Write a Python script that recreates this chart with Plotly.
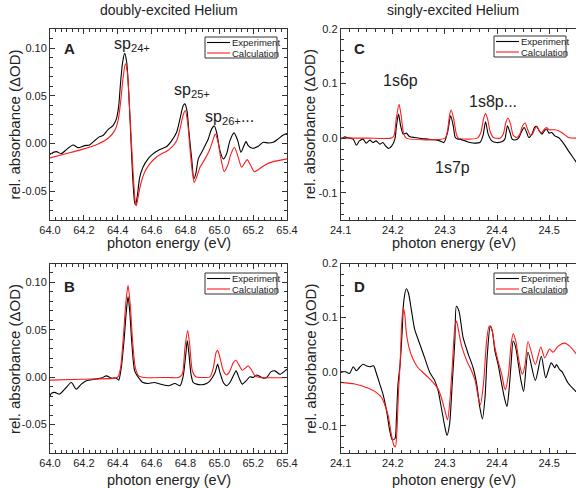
import plotly.graph_objects as go

# ---------------- data ----------------
# Panel A (doubly-excited, transient absorbance)
a_exp_e = [64.000, 64.004, 64.037, 64.067, 64.097, 64.136, 64.165, 64.205, 64.234, 64.264, 64.293, 64.313,
           64.343, 64.372, 64.392, 64.406, 64.417, 64.429, 64.441, 64.453, 64.465, 64.477, 64.488, 64.500,
           64.506, 64.516, 64.530, 64.549, 64.579, 64.608, 64.638, 64.667, 64.690, 64.719, 64.748, 64.768,
           64.787, 64.797, 64.809, 64.821, 64.837, 64.850, 64.861, 64.876, 64.896, 64.916, 64.935, 64.955,
           64.971, 64.984, 65.004, 65.024, 65.043, 65.063, 65.087, 65.109, 65.128, 65.142, 65.158, 65.171,
           65.195, 65.230, 65.260, 65.289, 65.319, 65.348, 65.378, 65.400]
a_exp_v = [-0.0115, -0.0108, -0.0084, -0.0105, -0.0063, -0.0014, -0.0042, -0.0021, -0.0014, 0.0031, 0.0073, 0.0084,
           0.0147, 0.0189, 0.0259, 0.0398, 0.0643, 0.0852, 0.0945, 0.0852, 0.0540, 0.0084, -0.0335, -0.0615,
           -0.0640, -0.0545, -0.0353, -0.0248, -0.0160, -0.0108, -0.0073, -0.0049, -0.0030, 0.0031, 0.0119, 0.0259,
           0.0398, 0.0416, 0.0346, 0.0119, -0.0160, -0.0370, -0.0318, -0.0160, -0.0091, -0.0021, 0.0049, 0.0154,
           0.0185, 0.0119, -0.0073, -0.0160, -0.0108, 0.0031, 0.0112, 0.0031, -0.0091, -0.0038, 0.0021, -0.0021,
           -0.0049, -0.0028, 0.0014, 0.0007, 0.0014, 0.0049, 0.0091, 0.0105]
a_calc_e = [64.000, 64.087, 64.185, 64.284, 64.343, 64.382, 64.402, 64.417, 64.431, 64.445, 64.457, 64.468,
            64.480, 64.492, 64.504, 64.510, 64.520, 64.536, 64.559, 64.589, 64.628, 64.667, 64.690, 64.719,
            64.748, 64.768, 64.787, 64.799, 64.813, 64.827, 64.841, 64.852, 64.866, 64.886, 64.916, 64.945,
            64.965, 64.976, 64.991, 65.010, 65.029, 65.049, 65.069, 65.089, 65.109, 65.132, 65.152, 65.165,
            65.181, 65.207, 65.230, 65.270, 65.319, 65.400]
a_calc_v = [-0.0150, -0.0108, -0.0063, -0.0003, 0.0056, 0.0136, 0.0241, 0.0433, 0.0678, 0.0835, 0.0747, 0.0433,
            0.0049, -0.0335, -0.0615, -0.0650, -0.0563, -0.0423, -0.0301, -0.0213, -0.0143, -0.0098, -0.0080, -0.0038,
            0.0031, 0.0154, 0.0301, 0.0346, 0.0224, -0.0056, -0.0301, -0.0406, -0.0353, -0.0248, -0.0160, -0.0056,
            0.0049, 0.0101, 0.0031, -0.0160, -0.0294, -0.0230, -0.0108, -0.0038, -0.0126, -0.0248, -0.0196, -0.0168,
            -0.0213, -0.0294, -0.0273, -0.0223, -0.0189, -0.0160]

# Panel B (doubly-excited, reconstructed)
b_exp_e = [64.000, 64.008, 64.028, 64.057, 64.087, 64.126, 64.155, 64.185, 64.215, 64.264, 64.303, 64.333,
           64.362, 64.392, 64.406, 64.421, 64.437, 64.451, 64.461, 64.471, 64.484, 64.500, 64.520, 64.549,
           64.579, 64.618, 64.667, 64.700, 64.738, 64.768, 64.787, 64.802, 64.811, 64.821, 64.833, 64.846,
           64.866, 64.896, 64.925, 64.945, 64.975, 64.990, 65.004, 65.024, 65.043, 65.063, 65.083, 65.099,
           65.116, 65.136, 65.162, 65.181, 65.201, 65.221, 65.240, 65.260, 65.280, 65.305, 65.329, 65.358,
           65.388, 65.400]
b_exp_v = [-0.0200, -0.0171, -0.0160, -0.0178, -0.0126, -0.0056, -0.0126, -0.0073, -0.0038, -0.0021, -0.0010, 0.0014,
           -0.0010, -0.0010, -0.0031, 0.0102, 0.0381, 0.0696, 0.0850, 0.0696, 0.0346, 0.0067, 0.0004, -0.0056,
           -0.0066, -0.0056, -0.0080, -0.0090, -0.0066, -0.0090, 0.0014, 0.0241, 0.0388, 0.0241, 0.0031, -0.0056,
           -0.0073, -0.0080, -0.0066, -0.0038, 0.0049, 0.0135, 0.0049, -0.0056, -0.0090, -0.0056, 0.0014, 0.0067,
           -0.0003, -0.0073, -0.0031, 0.0004, -0.0003, 0.0024, 0.0007, -0.0010, -0.0003, 0.0056, 0.0067, 0.0031,
           0.0067, 0.0084]
b_calc_e = [64.000, 64.185, 64.382, 64.402, 64.417, 64.433, 64.447, 64.461, 64.474, 64.488, 64.504, 64.524,
            64.559, 64.700, 64.758, 64.781, 64.797, 64.813, 64.825, 64.841, 64.861, 64.896, 64.945, 64.965,
            64.981, 64.990, 65.004, 65.024, 65.043, 65.063, 65.083, 65.099, 65.116, 65.136, 65.152, 65.171,
            65.191, 65.211, 65.240, 65.400]
b_calc_v = [-0.0031, -0.0021, -0.0010, 0.0004, 0.0102, 0.0416, 0.0765, 0.0969, 0.0765, 0.0381, 0.0102, 0.0014,
            -0.0003, -0.0003, -0.0003, 0.0031, 0.0311, 0.0493, 0.0346, 0.0067, 0.0004, -0.0003, 0.0004, 0.0102,
            0.0259, 0.0283, 0.0206, 0.0067, 0.0024, 0.0067, 0.0154, 0.0178, 0.0130, 0.0073, 0.0094, 0.0119,
            0.0073, 0.0014, -0.0003, -0.0003]

# Panel C (singly-excited, transient absorbance)
c_exp_e = [24.100, 24.108, 24.114, 24.124, 24.130, 24.136, 24.143, 24.149, 24.156, 24.162, 24.168, 24.175,
           24.181, 24.186, 24.192, 24.198, 24.204, 24.207, 24.211, 24.215, 24.220, 24.226, 24.232, 24.242,
           24.255, 24.268, 24.280, 24.290, 24.298, 24.305, 24.311, 24.316, 24.320, 24.325, 24.329, 24.339,
           24.348, 24.358, 24.367, 24.373, 24.378, 24.383, 24.390, 24.399, 24.409, 24.415, 24.420, 24.425,
           24.429, 24.436, 24.442, 24.447, 24.452, 24.457, 24.461, 24.467, 24.472, 24.476, 24.481, 24.486,
           24.491, 24.495, 24.500, 24.505, 24.511, 24.518, 24.524, 24.531, 24.537, 24.544, 24.552]
c_exp_v = [-0.0018, 0.0024, 0.0006, -0.0018, -0.0129, -0.0050, -0.0018, -0.0092, -0.0037, -0.0081, -0.0050, -0.0110,
           -0.0081, -0.0142, -0.0191, -0.0142, -0.0018, 0.0227, 0.0440, 0.0227, 0.0074, 0.0092, 0.0030, 0.0011,
           -0.0007, -0.0018, -0.0031, -0.0050, -0.0081, 0.0104, 0.0410, 0.0227, 0.0011, -0.0018, -0.0018, -0.0050,
           -0.0081, -0.0092, -0.0081, 0.0042, 0.0300, 0.0074, -0.0050, -0.0081, -0.0068, -0.0018, 0.0227, 0.0104,
           -0.0018, -0.0031, 0.0011, 0.0116, 0.0196, 0.0104, 0.0011, 0.0074, 0.0196, 0.0214, 0.0135, 0.0074,
           0.0135, 0.0166, 0.0092, 0.0104, 0.0042, 0.0011, -0.0050, -0.0142, -0.0234, -0.0327, -0.0440]
c_calc_e = [24.100, 24.150, 24.196, 24.202, 24.207, 24.212, 24.216, 24.221, 24.226, 24.300, 24.305, 24.309,
            24.312, 24.317, 24.322, 24.326, 24.362, 24.369, 24.374, 24.378, 24.382, 24.387, 24.393, 24.406,
            24.412, 24.417, 24.421, 24.426, 24.431, 24.438, 24.444, 24.449, 24.454, 24.459, 24.464, 24.468,
            24.473, 24.477, 24.481, 24.486, 24.491, 24.495, 24.500, 24.505, 24.511, 24.518, 24.524, 24.531,
            24.537, 24.552]
c_calc_v = [0.0000, 0.0000, 0.0000, 0.0040, 0.0380, 0.0620, 0.0410, 0.0074, 0.0000, 0.0000, 0.0135, 0.0424,
            0.0517, 0.0350, 0.0074, 0.0000, 0.0000, 0.0104, 0.0350, 0.0450, 0.0350, 0.0116, 0.0011, 0.0000,
            0.0074, 0.0288, 0.0370, 0.0258, 0.0055, 0.0011, 0.0074, 0.0227, 0.0277, 0.0153, 0.0055, 0.0074,
            0.0177, 0.0214, 0.0135, 0.0104, 0.0166, 0.0196, 0.0153, 0.0153, 0.0153, 0.0135, 0.0104, 0.0055,
            0.0011, 0.0000]

# Panel D (singly-excited, reconstructed)
d_exp_e = [24.100, 24.108, 24.117, 24.124, 24.130, 24.136, 24.143, 24.149, 24.156, 24.163, 24.168, 24.175,
           24.181, 24.188, 24.194, 24.199, 24.204, 24.207, 24.210, 24.214, 24.218, 24.221, 24.226, 24.230,
           24.236, 24.242, 24.252, 24.261, 24.271, 24.280, 24.287, 24.293, 24.300, 24.304, 24.309, 24.314,
           24.319, 24.322, 24.327, 24.335, 24.345, 24.354, 24.361, 24.367, 24.372, 24.377, 24.381, 24.387,
           24.391, 24.396, 24.402, 24.409, 24.414, 24.419, 24.423, 24.427, 24.431, 24.436, 24.441, 24.446,
           24.451, 24.4595, 24.4735, 24.485, 24.4935, 24.504, 24.511, 24.514, 24.520, 24.525, 24.536, 24.552]
d_exp_v = [-0.0013, 0.0006, -0.0031, 0.0092, 0.0018, 0.0079, 0.0140, 0.0110, 0.0092, 0.0110, -0.0013, -0.0227,
           -0.0410, -0.0716, -0.1080, -0.1255, -0.1237, -0.0839, -0.0227, 0.0140, 0.0752, 0.1303, 0.1534, 0.1455,
           0.1119, 0.0782, 0.0507, 0.0262, -0.0013, -0.0154, -0.0349, -0.0655, -0.1022, -0.1174, -0.0961, -0.0227,
           0.0569, 0.1210, 0.1120, 0.0630, 0.0323, 0.0079, -0.0227, -0.0655, -0.0869, -0.0471, 0.0262, 0.0844,
           0.0752, 0.0385, 0.0140, -0.0227, -0.0471, -0.0642, -0.0349, 0.0140, 0.0569, 0.0446, 0.0140, -0.0165,
           -0.0361, 0.0360, -0.0160, 0.0287, -0.0110, 0.0165, 0.0073, 0.0134, 0.0042, 0.0000, -0.0202, -0.0370]
d_calc_e = [24.100, 24.127, 24.152, 24.168, 24.178, 24.184, 24.191, 24.197, 24.202, 24.205, 24.208, 24.211,
            24.214, 24.217, 24.220, 24.223, 24.226, 24.232, 24.239, 24.248, 24.258, 24.268, 24.277, 24.287,
            24.293, 24.300, 24.305, 24.309, 24.314, 24.319, 24.322, 24.324, 24.332, 24.342, 24.351, 24.358,
            24.364, 24.368, 24.374, 24.380, 24.385, 24.390, 24.396, 24.402, 24.409, 24.414, 24.416, 24.422,
            24.427, 24.431, 24.436, 24.441, 24.446, 24.449, 24.454, 24.4595, 24.4735, 24.484, 24.4915, 24.501,
            24.5075, 24.517, 24.530, 24.540, 24.552]
d_calc_v = [-0.0196, -0.0227, -0.0300, -0.0380, -0.0471, -0.0594, -0.0807, -0.1145, -0.1358, -0.1390, -0.1080, -0.0349,
            0.0140, 0.0873, 0.1180, 0.1057, 0.0721, 0.0415, 0.0231, 0.0079, -0.0013, -0.0105, -0.0196, -0.0319,
            -0.0471, -0.0716, -0.0888, -0.0594, 0.0079, 0.0813, 0.0936, 0.0873, 0.0477, 0.0202, 0.0018, -0.0165,
            -0.0471, -0.0610, -0.0227, 0.0569, 0.0844, 0.0782, 0.0446, 0.0202, -0.0044, -0.0288, -0.0330, -0.0044,
            0.0507, 0.0700, 0.0569, 0.0262, 0.0018, -0.0044, 0.0140, 0.0560, 0.0134, 0.0459, 0.0257, 0.0420,
            0.0360, 0.0470, 0.0530, 0.0470, 0.0330]

# tick labels
left_x_ticks = [64.0, 64.2, 64.4, 64.6, 64.8, 65.0, 65.2, 65.4]
left_x_labels = ["64.0", "64.2", "64.4", "64.6", "64.8", "65.0", "65.2", "65.4"]
left_y_ticks = [-0.05, 0.0, 0.05, 0.10]
left_y_labels = ["-0.05", "0.00", "0.05", "0.10"]
right_x_ticks = [24.1, 24.2, 24.3, 24.4, 24.5]
right_x_labels = ["24.1", "24.2", "24.3", "24.4", "24.5"]
right_y_ticks = [-0.1, 0.0, 0.1, 0.2]
right_y_labels = ["-0.1", "0.0", "0.1", "0.2"]

series_names = ["Experiment", "Calculation"]
series_colors = ["#000000", "#ff1a1a"]

# ---------------- figure ----------------
W, H = 576, 488
FONT = "Liberation Sans, Arial, Helvetica, sans-serif"
TXT = "#222222"
AX = "#333333"

left_dom = [50 / W, 287 / W]
right_dom = [340.7 / W, 1.0]
top_dom = [1 - 220 / H, 1 - 29 / H]
bot_dom = [1 - 453 / H, 1 - 263.5 / H]

fig = go.Figure()
panels = [
    ("x", "y", a_exp_e, a_exp_v, a_calc_e, a_calc_v),
    ("x2", "y2", b_exp_e, b_exp_v, b_calc_e, b_calc_v),
    ("x3", "y3", c_exp_e, c_exp_v, c_calc_e, c_calc_v),
    ("x4", "y4", d_exp_e, d_exp_v, d_calc_e, d_calc_v),
]
for xr, yr, ee, ev, ce, cv in panels:
    fig.add_trace(go.Scatter(x=ee, y=ev, xaxis=xr, yaxis=yr, mode="lines", name=series_names[0],
                             line=dict(color=series_colors[0], width=1.1, shape="spline", smoothing=0.7),
                             showlegend=False))
    fig.add_trace(go.Scatter(x=ce, y=cv, xaxis=xr, yaxis=yr, mode="lines", name=series_names[1],
                             line=dict(color=series_colors[1], width=1.1, shape="spline", smoothing=0.7),
                             showlegend=False))


def axis(**kw):
    d = dict(showline=True, linecolor=AX, linewidth=1, ticks="inside", ticklen=5, tickcolor=AX,
             tickwidth=1, showgrid=False, zeroline=False, mirror="ticks", automargin=False,
             tickfont=dict(family=FONT, size=11, color=TXT))
    d.update(kw)
    return d


def minor(dt, t0):
    return dict(ticks="inside", ticklen=3, tickcolor=AX, dtick=dt, tick0=t0, showgrid=False)


fig.update_layout(
    width=W, height=H, margin=dict(l=0, r=0, t=0, b=0, autoexpand=False),
    paper_bgcolor="white", plot_bgcolor="white",
    font=dict(family=FONT, color=TXT),
    xaxis=axis(domain=left_dom, anchor="y", range=[64.0, 65.4], tickvals=left_x_ticks, ticktext=left_x_labels,
               minor=minor(0.2 / 6, 64.0)),
    yaxis=axis(domain=top_dom, anchor="x", range=[-0.08, 0.12], tickvals=left_y_ticks, ticktext=left_y_labels,
               minor=minor(0.01, 0.0)),
    xaxis2=axis(domain=left_dom, anchor="y2", range=[64.0, 65.4], tickvals=left_x_ticks, ticktext=left_x_labels,
                minor=minor(0.2 / 6, 64.0)),
    yaxis2=axis(domain=bot_dom, anchor="x2", range=[-0.08, 0.12], tickvals=left_y_ticks, ticktext=left_y_labels,
                minor=minor(0.01, 0.0)),
    xaxis3=axis(domain=right_dom, anchor="y3", range=[24.1, 24.5516], tickvals=right_x_ticks,
                ticktext=right_x_labels, minor=minor(0.1 / 6, 24.1)),
    yaxis3=axis(domain=top_dom, anchor="x3", range=[-0.15, 0.2], tickvals=right_y_ticks, ticktext=right_y_labels,
                minor=minor(0.02, 0.0), mirror=False),
    xaxis4=axis(domain=right_dom, anchor="y4", range=[24.1, 24.5516], tickvals=right_x_ticks,
                ticktext=right_x_labels, minor=minor(0.1 / 6, 24.1)),
    yaxis4=axis(domain=bot_dom, anchor="x4", range=[-0.15, 0.2], tickvals=right_y_ticks, ticktext=right_y_labels,
                minor=minor(0.02, 0.0), mirror=False),
    yaxis5=dict(overlaying="y3", anchor="x3", side="right", range=[-0.15, 0.2], tickvals=right_y_ticks,
                showticklabels=False, ticks="inside", ticklen=5, tickcolor=AX, showline=False, showgrid=False,
                zeroline=False, automargin=False, minor=minor(0.02, 0.0)),
    yaxis6=dict(overlaying="y4", anchor="x4", side="right", range=[-0.15, 0.2], tickvals=right_y_ticks,
                showticklabels=False, ticks="inside", ticklen=5, tickcolor=AX, showline=False, showgrid=False,
                zeroline=False, automargin=False, minor=minor(0.02, 0.0)),
)

ann = []
# column titles
ann.append(dict(text="doubly-excited Helium", xref="paper", yref="paper", x=(left_dom[0] + left_dom[1]) / 2,
                y=1 - 10.5 / H, showarrow=False, font=dict(family=FONT, size=14, color=TXT),
                xanchor="center", yanchor="middle"))
ann.append(dict(text="singly-excited Helium", xref="paper", yref="paper", x=453 / W,
                y=1 - 10.5 / H, showarrow=False, font=dict(family=FONT, size=14, color=TXT),
                xanchor="center", yanchor="middle"))
# axis titles
for cx, cy in [(168.5, 243), (168.5, 479.5), (454, 243), (454, 479.5)]:
    ann.append(dict(text="photon energy (eV)", xref="paper", yref="paper", x=cx / W, y=1 - cy / H,
                    showarrow=False, xanchor="center", yanchor="middle",
                    font=dict(family=FONT, size=14.5, color=TXT)))
for cx, cy in [(14, 124.5), (14, 359), (309.7, 124.5), (309.7, 359)]:
    ann.append(dict(text="rel. absorbance (ΔOD)", xref="paper", yref="paper", x=cx / W, y=1 - cy / H,
                    showarrow=False, xanchor="center", yanchor="middle", textangle=-90,
                    font=dict(family=FONT, size=15, color=TXT)))
# panel letters
for letter, xr, yr, yy in [("A", "x", "y", 0.90), ("B", "x2", "y2", 0.88), ("C", "x3", "y3", 0.90),
                           ("D", "x4", "y4", 0.88)]:
    ann.append(dict(text="<b>%s</b>" % letter, xref=xr + " domain", yref=yr + " domain", x=0.05, y=yy,
                    showarrow=False, xanchor="left", yanchor="middle",
                    font=dict(family=FONT, size=15, color=TXT)))
# peak labels
peak_labels = [
    ("sp<sub>24+</sub>", "x", "y", 64.484, 0.104),
    ("sp<sub>25+</sub>", "x", "y", 64.839, 0.056),
    ("sp<sub>26+</sub>...", "x", "y", 65.063, 0.0277),
    ("1s6p", "x3", "y3", 24.215, 0.106),
    ("1s8p...", "x3", "y3", 24.393, 0.067),
    ("1s7p", "x3", "y3", 24.3146, -0.053),
]
for t, xr, yr, xv, yv in peak_labels:
    ann.append(dict(text=t, xref=xr, yref=yr, x=xv, y=yv, showarrow=False, xanchor="center",
                    yanchor="middle", font=dict(family=FONT, size=16, color=TXT)))

# legends (drawn in panel-relative pixel offsets)
shapes = []
panel_px = {"x": (237, 191), "x2": (237, 189.5), "x3": (235.3, 191), "x4": (235.3, 189.5)}
for xr, yr, top_off in [("x", "y", 8), ("x2", "y2", 9.5), ("x3", "y3", 7), ("x4", "y4", 9.5)]:
    pw, ph = panel_px[xr]
    right_off, bw, bh = 10, 72, 21
    bx1 = 1 - right_off / pw
    bx0 = bx1 - bw / pw
    by1 = 1 - top_off / ph
    by0 = by1 - bh / ph
    shapes.append(dict(type="rect", xref=xr + " domain", yref=yr + " domain", x0=bx0, x1=bx1, y0=by0, y1=by1,
                       line=dict(color=AX, width=1), fillcolor="white", layer="above"))
    for i in range(2):
        ry = by1 - (5.5 + 10.5 * i) / ph
        shapes.append(dict(type="line", xref=xr + " domain", yref=yr + " domain",
                           x0=bx0 + 2 / pw, x1=bx0 + 25 / pw, y0=ry, y1=ry,
                           line=dict(color=series_colors[i], width=1.1), layer="above"))
        ann.append(dict(text=series_names[i], xref=xr + " domain", yref=yr + " domain", x=bx0 + 25 / pw, y=ry,
                        showarrow=False, xanchor="left", yanchor="middle",
                        font=dict(family=FONT, size=9.5, color=TXT)))

fig.update_layout(annotations=ann, shapes=shapes)
fig.write_html("out.html")
